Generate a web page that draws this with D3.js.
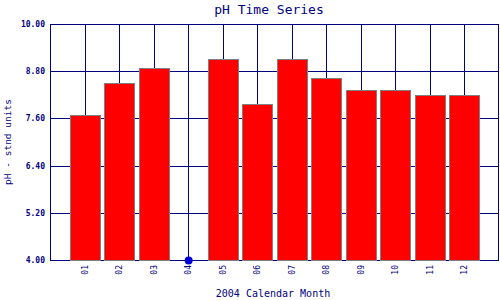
<!DOCTYPE html>
<html>
<head>
<meta charset="utf-8">
<script src="https://cdn.jsdelivr.net/npm/d3@7"></script>
<style>
  html, body { margin: 0; padding: 0; background: #fff; }
  svg { display: block; }
</style>
</head>
<body>
<svg id="chart" width="500" height="300"></svg>
<script>
// pH time series, monthly means for 2004. April has no sample (drawn as a dot at the floor).
const months = ["01", "02", "03", "04", "05", "06", "07", "08", "09", "10", "11", "12"];
const phValues = [7.68, 8.49, 8.87, null, 9.10, 7.96, 9.10, 8.62, 8.31, 8.31, 8.19, 8.19];
const yTicks = [4.0, 5.2, 6.4, 7.6, 8.8, 10.0];

const NAVY = "#000080";
const W = 500, H = 300;
const m = { top: 24, right: 1, bottom: 40, left: 50 };

const svg = d3.select("#chart");

// 14 evenly spaced slots; months sit on slots 1..12
const x = d3.scalePoint().domain(d3.range(14)).range([m.left, W - m.right]);
const y = d3.scaleLinear().domain([4, 10]).range([H - m.bottom, m.top]);
const barW = 30;

// grid
const gGrid = svg.append("g");
gGrid.selectAll("line.h").data(yTicks).join("line")
  .attr("x1", m.left).attr("x2", W - m.right)
  .attr("y1", (d) => Math.round(y(d)) + 0.5).attr("y2", (d) => Math.round(y(d)) + 0.5)
  .attr("stroke", NAVY).attr("stroke-width", 1);
gGrid.selectAll("line.v").data(months).join("line")
  .attr("x1", (d, i) => Math.round(x(i + 1)) + 0.5).attr("x2", (d, i) => Math.round(x(i + 1)) + 0.5)
  .attr("y1", y(10)).attr("y2", y(4))
  .attr("stroke", NAVY).attr("stroke-width", 1);
// frame: left and right edges
gGrid.append("line")
  .attr("x1", m.left + 0.5).attr("x2", m.left + 0.5).attr("y1", y(10)).attr("y2", y(4))
  .attr("stroke", NAVY);
gGrid.append("line")
  .attr("x1", W - m.right - 0.5).attr("x2", W - m.right - 0.5).attr("y1", y(10)).attr("y2", y(4))
  .attr("stroke", NAVY);

// bars
const data = months.map((mo, i) => ({ mo, i, v: phValues[i] }));
svg.append("g").selectAll("rect").data(data.filter((d) => d.v != null)).join("rect")
  .attr("x", (d) => Math.round(x(d.i + 1) - barW / 2) + 0.5)
  .attr("y", (d) => Math.round(y(d.v)) + 0.5)
  .attr("width", barW)
  .attr("height", (d) => Math.round(y(4)) - Math.round(y(d.v)))
  .attr("fill", "#ff0000")
  .attr("stroke", "#808080")
  .attr("stroke-width", 1);

// missing month marker
svg.append("g").selectAll("circle").data(data.filter((d) => d.v == null)).join("circle")
  .attr("cx", (d) => x(d.i + 1) + 0.5)
  .attr("cy", y(4) + 0.5)
  .attr("r", 4)
  .attr("fill", "#0000dd");

// y tick labels
svg.append("g").selectAll("text").data(yTicks).join("text")
  .attr("x", m.left - 5)
  .attr("y", (d) => y(d) + 3)
  .attr("text-anchor", "end")
  .attr("font-family", "'DejaVu Sans Mono', monospace")
  .attr("font-size", 8)
  .attr("font-weight", "bold")
  .attr("fill", NAVY)
  .text((d) => d.toFixed(2));

// x tick labels, rotated
svg.append("g").selectAll("text").data(months).join("text")
  .attr("transform", (d, i) => `translate(${x(i + 1) + 3},${y(4) + 5}) rotate(-90)`)
  .attr("text-anchor", "end")
  .attr("font-family", "'DejaVu Sans Mono', monospace")
  .attr("font-size", 8)
  .attr("fill", NAVY)
  .text((d) => d);

// titles
const mono = "'DejaVu Sans Mono', monospace";
svg.append("text")
  .attr("x", 269).attr("y", 14)
  .attr("text-anchor", "middle")
  .attr("font-family", mono).attr("font-size", 13)
  .attr("fill", NAVY)
  .text("pH Time Series");

svg.append("text")
  .attr("x", 273).attr("y", 297)
  .attr("text-anchor", "middle")
  .attr("font-family", mono).attr("font-size", 10)
  .attr("fill", NAVY)
  .text("2004 Calendar Month");

svg.append("text")
  .attr("transform", "translate(11,142) rotate(-90)")
  .attr("text-anchor", "middle")
  .attr("font-family", mono).attr("font-size", 9.5)
  .attr("fill", NAVY)
  .text("pH - stnd units");
</script>
</body>
</html>
